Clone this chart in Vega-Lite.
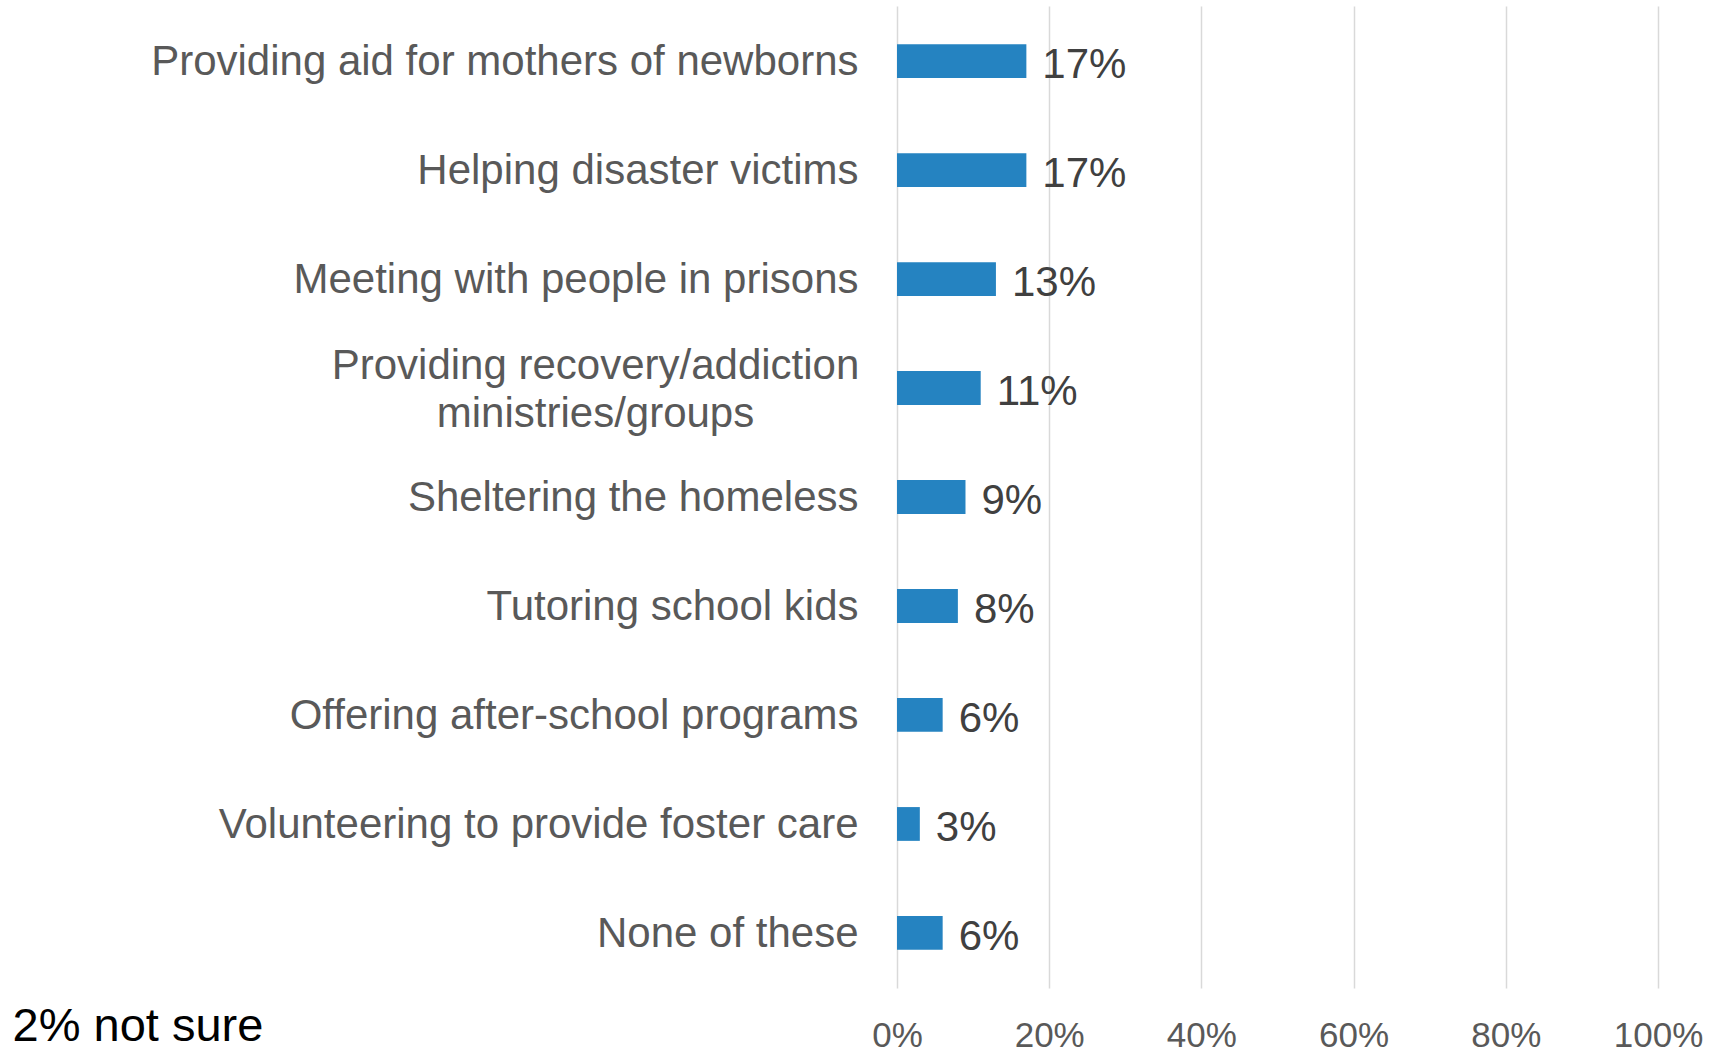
{
  "$schema": "https://vega.github.io/schema/vega-lite/v6.json",
  "width": 761,
  "height": 982,
  "autosize": {"type": "none"},
  "padding": {"left": 897, "top": 6, "right": 74, "bottom": 67},
  "background": "white",
  "config": {
    "view": {"stroke": null},
    "font": "Liberation Sans"
  },
  "data": {
    "values": [
      {"item": "Providing aid for mothers of newborns", "pct": 0.17},
      {"item": "Helping disaster victims", "pct": 0.17},
      {"item": "Meeting with people in prisons", "pct": 0.13},
      {"item": "Providing recovery/addiction|ministries/groups", "pct": 0.11},
      {"item": "Sheltering the homeless", "pct": 0.09},
      {"item": "Tutoring school kids", "pct": 0.08},
      {"item": "Offering after-school programs", "pct": 0.06},
      {"item": "Volunteering to provide foster care", "pct": 0.03},
      {"item": "None of these", "pct": 0.06}
    ]
  },
  "encoding": {
    "y": {
      "field": "item",
      "type": "nominal",
      "sort": null,
      "scale": {"paddingInner": 0.69, "paddingOuter": 0.35},
      "axis": {
        "title": null,
        "domain": false,
        "ticks": false,
        "grid": false,
        "labelFontSize": 42,
        "labelColor": "#595959",
        "labelPadding": {"condition": {"test": "indexof(datum.label, '|') >= 0", "value": 302}, "value": 39},
        "labelAlign": {"condition": {"test": "indexof(datum.label, '|') >= 0", "value": "center"}, "value": "right"},
        "labelOffset": {"condition": {"test": "indexof(datum.label, '|') >= 0", "value": -22}, "value": 1},
        "labelLimit": 900,
        "labelLineHeight": 48,
        "labelExpr": "split(datum.label, '|')"
      }
    },
    "x": {
      "field": "pct",
      "type": "quantitative",
      "scale": {"domain": [0, 1], "nice": false},
      "axis": {
        "format": ".0%",
        "values": [0, 0.2, 0.4, 0.6, 0.8, 1],
        "domain": false,
        "ticks": false,
        "tickSize": 0,
        "grid": true,
        "gridColor": "#d9d9d9",
        "gridWidth": 1.5,
        "labelFontSize": 35,
        "labelColor": "#595959",
        "labelBaseline": "middle",
        "labelPadding": 47,
        "labelFlush": false,
        "title": "2% not sure",
        "titleFontSize": 47,
        "titleFontWeight": "normal",
        "titleColor": "#000000",
        "titleAlign": "left",
        "titleBaseline": "alphabetic",
        "titleAnchor": "start",
        "titleX": -885,
        "titleY": 52
      }
    }
  },
  "layer": [
    {"mark": {"type": "bar", "color": "#2583C1"}},
    {
      "mark": {"type": "text", "align": "left", "baseline": "middle", "dx": 16, "dy": 4, "fontSize": 42, "color": "#404040"},
      "encoding": {"text": {"field": "pct", "type": "quantitative", "format": ".0%"}}
    }
  ]
}
